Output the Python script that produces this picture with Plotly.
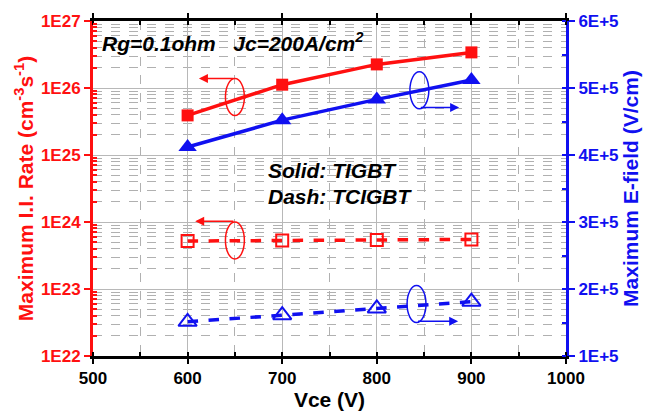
import plotly.graph_objects as go

# Collector-emitter voltage sweep
vce = [600, 700, 800, 900]

# Maximum impact-ionization rate (cm^-3 s^-1)
ii_tigbt = [3.9e25, 1.12e26, 2.25e26, 3.4e26]
ii_tcigbt = [5.2e23, 5.3e23, 5.4e23, 5.5e23]

# Maximum electric field (V/cm)
ef_tigbt = [4.12e5, 4.52e5, 4.83e5, 5.12e5]
ef_tcigbt = [1.51e5, 1.61e5, 1.71e5, 1.81e5]

# Axis tick labels
left_exps = [22, 23, 24, 25, 26, 27]
left_labels = ["1E22", "1E23", "1E24", "1E25", "1E26", "1E27"]
right_vals = [1e5, 2e5, 3e5, 4e5, 5e5, 6e5]
right_labels = ["1E+5", "2E+5", "3E+5", "4E+5", "5E+5", "6E+5"]
x_vals = [500, 600, 700, 800, 900, 1000]
x_labels = ["500", "600", "700", "800", "900", "1000"]

RED = "#ff1010"
BLUE = "#1010f0"
FONT = "Liberation Sans"
TICK_SIZE = 17
TITLE_SIZE = 21


def bold(labels):
    return [f"<b>{s}</b>" for s in labels]


fig = go.Figure()

fig.add_trace(go.Scatter(x=vce, y=ii_tigbt, mode="lines+markers",
                         line=dict(color=RED, width=3.5),
                         marker=dict(symbol="square", size=12, color=RED)))
fig.add_trace(go.Scatter(x=vce, y=ii_tcigbt, mode="lines+markers",
                         line=dict(color=RED, width=3.5, dash="dash"),
                         marker=dict(symbol="square-open", size=12, color=RED,
                                     line=dict(width=2))))
fig.add_trace(go.Scatter(x=vce, y=ef_tigbt, mode="lines+markers", yaxis="y2",
                         line=dict(color=BLUE, width=3.5),
                         marker=dict(symbol="triangle-up", size=16, color=BLUE)))
fig.add_trace(go.Scatter(x=vce, y=ef_tcigbt, mode="lines+markers", yaxis="y2",
                         line=dict(color=BLUE, width=3.5, dash="dash"),
                         marker=dict(symbol="triangle-up-open", size=16, color=BLUE,
                                     line=dict(width=2))))

minor_log = [float(m) * 10.0 ** e for e in left_exps[:-1] for m in range(2, 10)]

fig.update_layout(
    width=647, height=417,
    margin=dict(l=93, r=79, t=15, b=54),
    paper_bgcolor="white", plot_bgcolor="white",
    showlegend=False,
    font=dict(family=FONT, size=14, color="black"),
    xaxis=dict(
        range=[500, 1000], tickvals=x_vals, ticktext=bold(x_labels),
        ticks="outside", ticklen=5, tickwidth=2, tickcolor="black",
        showline=True, linecolor="black", linewidth=2.5, mirror="ticks",
        showgrid=True, gridcolor="#b8b8b8", gridwidth=1,
        minor=dict(dtick=50, ticks="inside", ticklen=4, tickcolor="black",
                   showgrid=True, gridcolor="#b0b0b0", griddash="dash", gridwidth=1),
        tickfont=dict(family=FONT, size=TICK_SIZE, color="black"),
        title=dict(text="<b>Vce (V)</b>", font=dict(family=FONT, size=TITLE_SIZE, color="black"),
                   standoff=2),
        zeroline=False,
    ),
    yaxis=dict(
        type="log", range=[22, 27],
        tickvals=[10.0 ** e for e in left_exps], ticktext=bold(left_labels),
        ticks="outside", ticklen=6, tickwidth=2, tickcolor=RED,
        showline=True, linecolor=RED, linewidth=3,
        showgrid=True, gridcolor="#b8b8b8", gridwidth=1,
        minor=dict(tickvals=minor_log, ticks="inside", ticklen=4, tickcolor=RED,
                   showgrid=True, gridcolor="#b0b0b0", griddash="dash", gridwidth=1),
        tickfont=dict(family=FONT, size=TICK_SIZE, color=RED),
        title=dict(text="<b>Maximum I.I. Rate (cm<sup>-3</sup>s<sup>-1</sup>)</b>",
                   font=dict(family=FONT, size=TITLE_SIZE, color=RED), standoff=2),
        zeroline=False,
    ),
    yaxis2=dict(
        overlaying="y", side="right", range=[1e5, 6e5],
        tickvals=right_vals, ticktext=bold(right_labels),
        ticks="outside", ticklen=6, tickwidth=2, tickcolor=BLUE,
        showline=True, linecolor=BLUE, linewidth=3,
        showgrid=False,
        minor=dict(dtick=5e4, ticks="inside", ticklen=4, tickcolor=BLUE),
        tickfont=dict(family=FONT, size=TICK_SIZE, color=BLUE),
        title=dict(text="<b>Maximum E-field (V/cm)</b>",
                   font=dict(family=FONT, size=TITLE_SIZE, color=BLUE), standoff=2),
        zeroline=False,
    ),
)

# Condition and legend-style text
fig.add_annotation(xref="paper", yref="paper", x=0.014, y=0.937, xanchor="left", yanchor="middle",
                   text="<b><i>Rg=0.1ohm&nbsp;&nbsp;&nbsp;Jc=200A/cm<sup>2</sup></i></b>",
                   showarrow=False, font=dict(family=FONT, size=21, color="black"))
fig.add_annotation(xref="paper", yref="paper", x=0.366, y=0.555, xanchor="left", yanchor="middle",
                   text="<b><i>Solid: TIGBT</i></b>", showarrow=False,
                   font=dict(family=FONT, size=21, color="black"))
fig.add_annotation(xref="paper", yref="paper", x=0.366, y=0.477, xanchor="left", yanchor="middle",
                   text="<b><i>Dash: TCIGBT</i></b>", showarrow=False,
                   font=dict(family=FONT, size=21, color="black"))

# Ellipses marking each curve pair, with arrows toward the corresponding axis
def mark(xc, yc, color, y_arrow, x_tip, w=20, h=0.55e5):
    fig.add_shape(type="circle", xref="x", yref="y2",
                  x0=xc - w / 2, x1=xc + w / 2, y0=yc - h / 2, y1=yc + h / 2,
                  line=dict(color=color, width=1.5))
    fig.add_annotation(xref="x", yref="y2", axref="x", ayref="y2",
                       x=x_tip, y=y_arrow, ax=xc, ay=y_arrow, text="",
                       showarrow=True, arrowhead=2, arrowsize=1.2, arrowwidth=1.5,
                       arrowcolor=color)

mark(650, 4.865e5, RED, 5.14e5, 612)
mark(845, 4.966e5, BLUE, 4.71e5, 887)
mark(650, 2.724e5, RED, 3.01e5, 608)
mark(842, 1.776e5, BLUE, 1.52e5, 886)

fig.write_html("out.html")
